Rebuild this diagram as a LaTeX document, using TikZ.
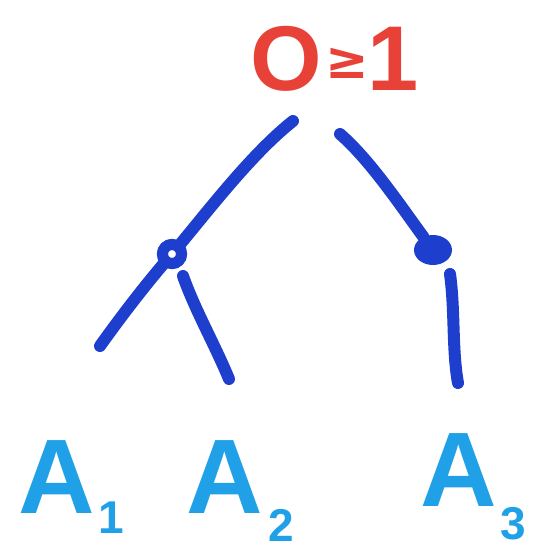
\documentclass[tikz,border=0pt]{standalone}
\usepackage{fontspec}
\setmainfont{Liberation Sans}
\newfontfamily\symfont{DejaVu Sans}
\definecolor{rootred}{RGB}{232,66,56}
\definecolor{treeblue}{RGB}{30,62,205}
\definecolor{leafblue}{RGB}{32,160,230}
\usetikzlibrary{shapes.geometric}
\tikzset{
  branch/.style={draw=treeblue, line width=12pt, line cap=round, line join=round},
  rootlabel/.style={text=rootred, inner sep=0pt, font=\bfseries\fontsize{92}{92}\selectfont},
  leaflabel/.style={text=leafblue, inner sep=0pt, anchor=base west, font=\bfseries\fontsize{106}{106}\selectfont},
  ringnode/.style={circle, draw=treeblue, line width=11pt, fill=white, minimum size=19pt, inner sep=0pt},
  blobnode/.style={ellipse, fill=treeblue, minimum width=38pt, minimum height=30pt, inner sep=0pt},
}
\newcommand{\subtxt}[3]{\hspace{#1}\raisebox{-#2}{\fontsize{46}{46}\selectfont #3}}
\begin{document}
\begin{tikzpicture}[x=1pt,y=-1pt]
\useasboundingbox (0,0) rectangle (546,552);
% root label
\node[rootlabel, anchor=base west] (root) at (250,90) {O\hspace{4pt}\raisebox{12pt}{\symfont\bfseries\fontsize{52}{52}\selectfont ≥}\hspace{-2pt}1};
% branch points
\coordinate (lt) at (293,121);
\coordinate (rt) at (340,134);
\node[ringnode] (n1) at (172,254) {};
\node[blobnode] (n2) at (433,250) {};
% free ends
\coordinate (e1) at (100,346);
\coordinate (s2) at (183,276);
\coordinate (e2) at (229,379);
\coordinate (s3) at (450,274);
\coordinate (e3) at (458,383);
% connectors
\draw[branch] (lt) .. controls (250,155) and (205,215) .. (n1.center);
\draw[branch] (n1.center) .. controls (145,285) and (120,318) .. (e1);
\draw[branch] (s2) .. controls (195,310) and (215,345) .. (e2);
\draw[branch] (rt) .. controls (370,160) and (400,205) .. (n2);
\draw[branch] (s3) .. controls (455,310) and (452,350) .. (e3);
\node[ringnode] at (n1) {};
% leaf labels
\node[leaflabel] (a1) at (18,513) {A\subtxt{4pt}{20pt}{1}};
\node[leaflabel] (a2) at (186,513) {A\subtxt{6pt}{28pt}{2}};
\node[leaflabel] (a3) at (420,506) {A\subtxt{4pt}{33pt}{3}};
\end{tikzpicture}
\end{document}
